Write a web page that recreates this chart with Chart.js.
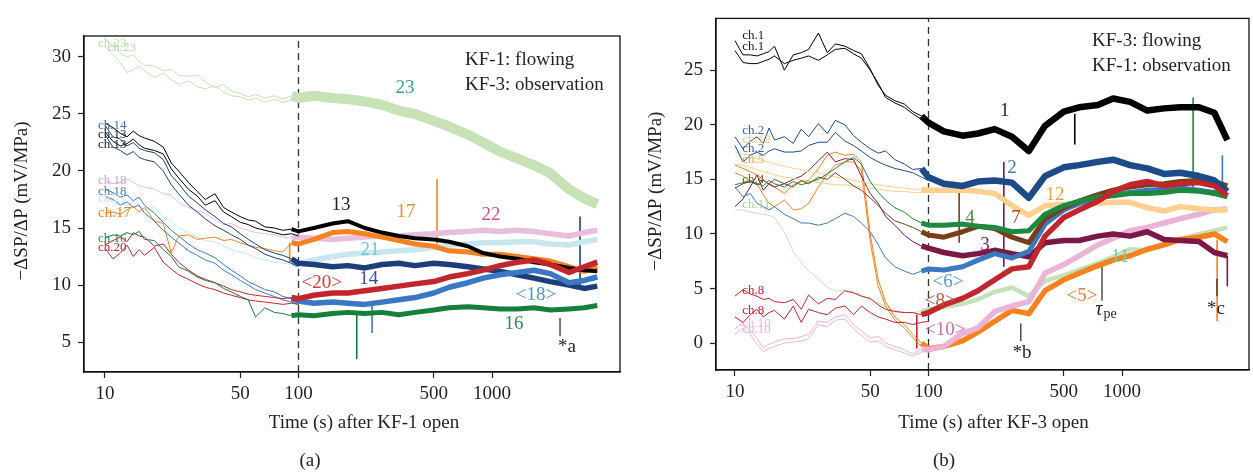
<!DOCTYPE html>
<html>
<head>
<meta charset="utf-8">
<script src="https://cdn.jsdelivr.net/npm/chart.js@4.4.0/dist/chart.umd.min.js"></script>
<style>
html, body { margin: 0; padding: 0; background: #fff; }
#wrap { position: relative; width: 1253px; height: 473px; overflow: hidden; }
#wa { position: absolute; left: 0; top: 0; }
#wb { position: absolute; left: 640px; top: 0; }
</style>
</head>
<body>
<div id="wrap">
  <div id="wa"><canvas id="ca" width="640" height="473"></canvas></div>
  <div id="wb"><canvas id="cb" width="613" height="473"></canvas></div>
</div>
<script>
/* ---------- temps (s) ---------- */
var tEarly = [10, 11, 12, 13, 14, 15, 16, 18, 20, 22, 24, 27, 30, 33, 37, 41, 45, 50, 55, 60, 67, 75, 83, 92, 100];
var tLate = [120, 150, 180, 220, 270, 330, 400, 500, 600, 750, 900, 1100, 1350, 1650, 2000, 2500, 3000, 3500];
var tAll = tEarly.concat(tLate);

var xTicks = [10, 50, 100, 500, 1000];
var yTicksA = [5, 10, 15, 20, 25, 30];
var yTicksB = [0, 5, 10, 15, 20, 25];

/* ---------- (a) KF-1 flowing ---------- */
var a23 = [31.6,31.0,30.3,30.0,30.2,29.6,29.3,29.2,28.8,28.9,28.4,28.3,28.4,27.8,27.3,27.6,27.0,26.8,26.5,26.7,26.4,26.6,26.3,26.6,26.4,
           26.6,26.4,26.3,26.1,25.8,25.3,25.0,24.4,23.9,23.2,22.5,21.7,21.1,20.5,19.8,18.4,17.6,17.1];
var a23b = [30.9,30.2,29.5,28.6,28.9,29.2,28.8,28.2,28.6,28.0,27.6,27.9,27.4,27.2,27.5,26.9,26.6,26.5,26.2,26.4,26.0,26.3,26.0,26.2,26.1];
var a13 = [24.2,23.8,23.3,23.0,23.5,23.1,22.9,22.6,22.1,20.7,20.0,19.0,18.2,17.5,18.0,16.8,16.4,16.0,15.7,15.6,15.1,15.0,14.8,14.9,14.7,
           15.0,15.4,15.6,15.0,14.6,14.3,14.1,14.0,13.8,13.4,12.8,12.5,12.3,12.0,11.8,11.5,11.3,11.2];
var a13b = [23.4,22.6,22.2,22.4,22.8,22.3,22.0,21.8,21.5,20.2,19.4,18.4,17.8,17.0,17.4,16.4,16.0,15.5,15.3,15.0,14.8,14.6,14.4,14.5,14.3];
var a14 = [24.0,23.0,22.8,22.2,22.5,22.0,21.8,21.6,21.0,19.6,18.9,17.8,17.2,16.6,16.0,15.4,15.1,14.5,14.0,13.6,13.1,12.8,12.6,12.3,11.9,
           11.8,11.6,11.7,11.5,11.8,11.9,11.7,11.9,11.8,11.6,11.4,11.2,10.9,10.6,10.3,10.0,9.7,9.9];
var a14b = [23.2,22.1,21.8,21.4,21.7,21.2,21.0,20.8,20.0,18.8,18.0,17.0,16.4,15.8,15.2,14.8,14.4,14.0,13.5,13.2,12.7,12.4,12.2,11.9,11.6];
var a18 = [18.4,18.1,17.7,17.9,17.4,17.7,17.0,16.3,15.5,14.8,14.3,13.6,13.1,12.8,12.4,11.8,11.3,10.8,10.3,10.0,9.6,9.4,9.0,8.8,8.6,
           8.4,8.5,8.4,8.3,8.5,8.7,8.9,9.3,9.8,10.2,10.6,10.9,11.1,11.3,11.0,10.2,10.4,10.7];
var a18b = [17.8,17.5,17.0,17.3,16.8,17.0,16.3,15.6,14.8,14.2,13.7,13.0,12.6,12.2,11.9,11.3,10.9,10.4,10.0,9.6,9.3,9.0,8.7,8.5,8.3];
var a20 = [13.5,13.9,14.2,13.8,14.6,14.3,14.2,13.4,13.6,12.7,12.0,11.3,10.8,10.5,10.2,9.9,9.6,9.4,9.2,9.1,9.0,8.9,8.8,8.9,8.8,
           9.1,9.3,9.3,9.5,9.7,9.9,10.1,10.3,10.7,11.0,11.3,11.7,12.0,12.2,11.8,11.1,11.6,12.0];
var a20b = [13.2,12.3,12.8,13.5,12.5,13.1,12.6,13.3,12.0,11.4,10.9,10.5,10.1,9.8,9.6,9.3,9.1,8.9,8.7,8.6,8.5,8.4,8.3,8.4,8.3];
var a16 = [14.1,14.4,14.3,14.6,14.4,14.7,14.0,13.9,13.1,12.5,11.6,11.2,10.7,10.4,10.2,9.7,9.4,9.0,8.7,7.2,8.0,7.6,7.5,7.3,7.4,
           7.3,7.5,7.6,7.5,7.6,7.4,7.6,7.8,8.0,8.1,8.0,7.9,7.9,8.0,7.8,7.9,8.0,8.2];
var a17 = [16.3,16.4,16.2,16.6,16.9,16.4,16.8,15.6,15.4,12.8,14.3,14.4,14.0,14.1,14.2,13.9,14.0,13.7,13.5,13.3,13.2,13.0,12.9,13.7,13.6,
           14.0,14.6,14.7,14.5,14.2,13.9,13.6,13.4,13.0,12.9,12.7,12.7,12.5,12.3,12.1,11.6,11.2,11.6];
var a22 = [19.1,18.9,19.0,19.3,19.0,18.7,18.6,18.4,18.0,17.9,17.2,16.8,16.5,16.3,15.7,15.3,15.4,15.0,14.8,14.6,14.5,14.4,14.2,14.1,14.2,
           14.1,14.0,14.1,14.2,14.3,14.3,14.4,14.5,14.6,14.7,14.8,14.7,14.8,14.7,14.5,14.3,14.6,14.8];
var a21 = [17.7,17.4,17.2,17.0,17.3,16.9,16.6,16.9,15.9,15.6,15.0,14.6,14.2,13.9,13.8,13.4,13.1,12.9,12.7,12.4,12.2,12.0,11.9,11.8,11.9,
           12.2,12.5,12.7,12.8,12.9,13.0,13.1,13.3,13.5,13.6,13.7,13.7,13.8,13.8,13.6,13.5,13.8,14.0];

/* pics isolés (a) : temps, bas, haut */
var spikeTA = [520, 200, 240, 2850, 90];
var spikeLoA = [13.4, 3.5, 5.8, 10.0, 12.0];
var spikeHiA = [19.3, 7.5, 8.3, 16.0, 13.7];

/* ---------- (b) KF-3 flowing ---------- */
var b1 = [27.7,26.4,26.4,26.3,26.5,26.7,27.2,25.0,26.4,26.6,26.9,28.4,26.6,27.4,27.2,26.8,26.5,25.1,23.6,22.7,22.2,21.9,21.2,20.8,20.2,
          19.4,19.0,19.2,19.6,18.9,17.6,19.9,21.2,21.6,21.8,22.4,22.1,21.3,21.5,21.6,21.6,21.1,18.6];
var b1b = [26.8,25.7,25.6,25.6,25.8,26.0,26.3,25.6,25.9,26.1,26.3,25.9,26.4,26.9,27.0,26.5,26.1,25.0,23.8,22.5,22.0,21.6,21.0,20.5,20.0];
var b2 = [18.9,17.8,18.5,18.9,18.3,19.7,18.6,18.9,18.3,19.6,18.9,20.1,19.2,20.4,20.0,19.0,18.4,17.8,17.4,17.6,16.8,16.4,15.9,16.0,15.2,
          14.6,14.4,14.8,14.9,14.7,13.3,15.3,16.1,16.3,16.6,16.8,16.3,16.0,15.5,15.6,15.3,14.9,13.9];
var b2b = [18.1,16.6,17.2,17.5,17.2,17.6,17.8,17.5,17.5,17.6,18.1,18.4,18.4,19.3,18.5,18.1,17.6,17.0,16.6,16.3,16.0,15.8,15.6,15.2,14.9];
var b12 = [17.5,17.3,17.2,16.9,16.7,16.6,16.4,16.2,16.0,15.9,15.7,15.6,15.4,15.2,15.1,14.9,14.8,14.6,14.5,14.4,14.3,14.2,14.1,14.1,14.0,
           14.0,14.0,13.9,13.7,12.6,11.7,12.6,12.7,12.7,12.8,12.9,12.9,12.4,12.1,12.5,12.3,12.2,12.2];
var b12b = [16.4,16.3,16.1,15.9,15.7,15.6,15.4,15.2,15.1,14.9,14.8,14.7,14.6,14.5,14.5,14.4,14.3,14.2,14.1,14.0,13.9,13.9,13.8,13.8,13.8];
var b5 = [16.3,16.0,15.7,15.4,15.0,14.5,14.3,13.7,14.5,14.8,14.9,16.0,17.2,17.5,17.2,17.3,16.6,10.0,5.8,3.8,2.4,1.7,0.8,0.0,-0.5,
          -0.3,0.2,1.0,2.0,3.0,2.7,4.8,5.8,6.4,7.1,7.6,8.0,8.6,9.0,9.5,9.7,10.0,9.3];
var b5b = [15.6,15.3,14.8,14.6,13.6,12.8,12.5,13.1,12.2,12.3,12.8,14.3,15.5,16.3,16.6,16.6,15.8,9.3,5.2,3.4,2.1,1.4,0.5,-0.3,-0.8];
var b4 = [14.5,14.7,14.9,14.6,14.4,14.9,14.6,14.3,14.8,14.5,14.7,15.0,15.5,16.0,16.6,17.0,16.4,14.8,13.8,13.1,12.4,12.0,11.4,11.0,10.8,
          10.8,10.9,10.7,10.6,10.2,10.3,11.8,12.6,13.0,13.4,13.5,13.7,13.7,13.8,14.0,13.9,13.7,13.4];
var b7 = [14.2,14.6,14.8,14.5,14.9,14.6,15.0,14.6,14.3,14.9,14.6,15.2,15.0,15.6,15.0,14.4,14.0,13.3,12.6,11.9,11.2,10.9,10.6,10.2,9.9,
          9.7,10.2,10.7,10.5,9.7,9.2,11.4,12.4,13.0,13.6,14.0,14.3,14.5,14.6,14.8,14.9,14.8,14.4];
var b3 = [12.5,13.2,14.3,15.4,14.0,14.6,14.3,14.6,15.0,15.3,15.8,16.7,17.5,16.6,16.9,16.8,15.3,13.7,12.8,11.6,10.8,9.9,9.3,8.9,8.7,
          8.3,8.0,8.2,8.5,8.2,7.9,9.2,9.4,9.4,9.8,10.0,9.8,10.2,9.5,9.4,9.3,8.3,8.0];
var b6 = [14.3,13.4,13.7,12.8,12.5,12.2,12.5,11.8,11.4,11.0,11.0,10.8,11.0,11.4,11.9,11.6,11.0,10.2,9.0,7.8,7.0,6.6,6.3,6.6,6.8,
          6.7,7.0,7.6,8.2,7.8,8.4,10.9,12.2,12.8,13.2,13.6,13.8,14.0,14.1,14.2,14.0,13.8,13.5];
var b8 = [4.3,4.9,4.5,4.3,4.0,4.1,3.8,3.7,4.0,3.1,4.4,3.6,4.1,4.0,4.8,4.6,4.3,4.1,3.5,3.1,2.9,2.8,2.8,2.6,2.8,
          3.5,4.1,4.8,5.8,6.8,7.0,9.8,11.5,12.2,13.0,13.9,14.5,14.8,14.4,14.6,14.7,14.4,13.5];
var b8b = [2.4,1.9,2.6,3.1,2.4,2.8,3.0,2.2,3.4,1.9,3.1,2.8,2.6,3.2,3.4,2.6,3.4,2.8,2.4,2.2,1.9,1.9,1.7,1.9,2.0];
var b10 = [1.3,1.9,1.2,0.4,-0.4,-0.1,0.1,0.4,0.4,0.6,0.8,2.0,1.9,2.4,2.6,1.7,1.1,0.5,0.6,0.0,-0.3,-0.6,-1.0,-0.5,-0.6,
           -0.3,0.9,1.4,2.9,3.4,3.8,6.4,7.2,8.0,9.0,9.6,10.3,10.6,11.0,11.4,11.8,12.2,12.3];
var b10b = [0.8,1.4,0.8,-0.1,-0.8,-0.5,-0.3,0.0,0.1,0.2,0.4,1.7,1.5,2.1,2.2,1.3,0.7,0.1,0.2,-0.3,-0.6,-0.9,-1.2,-0.8,-0.8];
var b11 = [12.2,12.2,12.0,11.9,11.8,11.7,11.5,10.2,8.4,7.4,6.6,5.9,5.1,4.8,4.8,4.7,4.4,4.0,3.7,3.3,3.0,2.8,2.8,2.9,3.1,
           3.3,3.6,4.0,4.7,5.1,4.3,5.7,6.2,6.7,7.3,7.9,8.6,8.5,9.2,9.5,10.0,10.3,10.6];

/* pics isolés (b) */
var spikeTB = [245, 144, 87, 2330, 3300, 3100, 3500, 570];
var spikeLoB = [7.0, 9.2, -0.5, 14.0, 13.8, 2.0, 5.2, 18.2];
var spikeHiB = [16.6, 14.5, 2.6, 22.5, 17.2, 9.5, 8.0, 21.0];

/*********************/
/* Couleurs / styles */
/*********************/
var col = {
    c23: '#c6e2b6', blk: '#000000', c14: '#1c3f7c', c18: '#3a78c6', c20: '#c3252c',
    c16: '#157f3c', c17: '#f58220', c22: '#e8bedc', c21: '#c8e6ee',
    b2: '#1d4a88', b12: '#fdd08f', b5: '#f5821f', b4: '#1b8a3e', b7: '#7a3e17',
    b3: '#7a1846', b6: '#3b78c3', b8: '#c1262d', b10: '#ebb3d6', b11: '#c3e3b6'
};
var serif = '"Liberation Serif", "DejaVu Serif", serif';

// une courbe : fine avant 100 s, bande épaisse (bruit) après
function courbe(times, vals, color, wLate) {
    return {
        data: times.map(function(t, i) { return { x: t, y: vals[i] }; }),
        borderColor: color, borderWidth: 1, pointRadius: 0, tension: 0, fill: false,
        borderJoinStyle: 'round',
        segment: { borderWidth: function(c) { return c.p0.parsed.x >= 92 ? wLate : 1; } }
    };
}
function trait(t, lo, hi, color, w, dash) {
    return { data: [{ x: t, y: lo }, { x: t, y: hi }], borderColor: color, borderWidth: w || 1.2,
             borderDash: dash || [], pointRadius: 0, fill: false };
}

/* textes (positions en coordonnées des données) */
var textesA = [
    { s: 'KF-1: flowing', t: 725, v: 29.7, c: '#231f20', f: 19, a: 'left' },
    { s: 'KF-3: observation', t: 725, v: 27.5, c: '#231f20', f: 19, a: 'left' },
    { s: '23', t: 355, v: 27.3, c: '#2ea596', f: 19 },
    { s: '13', t: 166, v: 17.0, c: '#231f20', f: 19 },
    { s: '17', t: 359, v: 16.4, c: '#f28a2e', f: 19 },
    { s: '22', t: 988, v: 16.1, c: '#d0508f', f: 19 },
    { s: '21', t: 234, v: 13.1, c: '#74c5d8', f: 19 },
    { s: '14', t: 231, v: 10.5, c: '#3c4c9c', f: 19 },
    { s: '<20>', t: 132, v: 10.2, c: '#d03c3c', f: 19 },
    { s: '<18>', t: 1688, v: 9.1, c: '#4e93d6', f: 19 },
    { s: '16', t: 1299, v: 6.6, c: '#2e8b57', f: 19 },
    { s: '*a', t: 2441, v: 4.6, c: '#231f20', f: 19 },
    { s: 'ch.23', t: 9.2, v: 31.2, c: '#b9dca6', f: 13, a: 'left' },
    { s: 'ch.23', t: 10.3, v: 30.8, c: '#b9dca6', f: 13, a: 'left' },
    { s: 'ch.14', t: 9.2, v: 24.0, c: '#3f6fb5', f: 13, a: 'left' },
    { s: 'ch.13', t: 9.2, v: 23.2, c: '#222', f: 13, a: 'left' },
    { s: 'ch.13', t: 9.2, v: 22.3, c: '#222', f: 13, a: 'left' },
    { s: 'ch.18', t: 9.2, v: 19.2, c: '#c7a4d6', f: 13, a: 'left' },
    { s: 'ch.18', t: 9.2, v: 18.2, c: '#4d7fc0', f: 13, a: 'left' },
    { s: 'ch.21', t: 9.2, v: 17.6, c: '#c8e6ee', f: 13, a: 'left' },
    { s: 'ch.17', t: 9.2, v: 16.3, c: '#f58220', f: 15, a: 'left' },
    { s: 'ch.16', t: 9.2, v: 14.1, c: '#2e8b57', f: 13, a: 'left' },
    { s: 'ch.20', t: 9.2, v: 13.3, c: '#c3252c', f: 13, a: 'left' }
];
var textesB = [
    { s: 'KF-3: flowing', t: 700, v: 27.7, c: '#231f20', f: 19, a: 'left' },
    { s: 'KF-1: observation', t: 700, v: 25.4, c: '#231f20', f: 19, a: 'left' },
    { s: '1', t: 248, v: 21.3, c: '#231f20', f: 19 },
    { s: '2', t: 270, v: 16.0, c: '#4077bd', f: 19 },
    { s: '4', t: 164, v: 11.5, c: '#4e8c3a', f: 19 },
    { s: '7', t: 283, v: 11.5, c: '#a0522d', f: 19 },
    { s: '3', t: 196, v: 9.0, c: '#8b2555', f: 19 },
    { s: '12', t: 451, v: 13.6, c: '#f4a340', f: 19 },
    { s: '<6>', t: 126, v: 5.6, c: '#5599d8', f: 19 },
    { s: '<8>', t: 115, v: 3.9, c: '#b85a36', f: 19 },
    { s: '<10>', t: 122, v: 1.2, c: '#c070b0', f: 19 },
    { s: '<5>', t: 621, v: 4.3, c: '#f07b35', f: 19 },
    { s: '11', t: 977, v: 7.9, c: '#7cc9a6', f: 19 },
    { s: 'τ', t: 800, v: 3.1, c: '#231f20', f: 20, sub: 'pe' },
    { s: '*b', t: 304, v: -0.9, c: '#231f20', f: 19 },
    { s: '*c', t: 3062, v: 3.1, c: '#231f20', f: 19 },
    { s: 'ch.1', t: 10.9, v: 28.2, c: '#222', f: 13, a: 'left' },
    { s: 'ch.1', t: 10.9, v: 27.2, c: '#222', f: 13, a: 'left' },
    { s: 'ch.2', t: 10.9, v: 19.5, c: '#3c64a0', f: 13, a: 'left' },
    { s: 'ch.12', t: 10.9, v: 18.6, c: '#fcc980', f: 13, a: 'left' },
    { s: 'ch.2', t: 10.9, v: 17.8, c: '#3c64a0', f: 13, a: 'left' },
    { s: 'ch.5', t: 10.9, v: 16.8, c: '#f5a050', f: 13, a: 'left' },
    { s: 'ch.4', t: 10.9, v: 15.0, c: '#6b5a2a', f: 13, a: 'left' },
    { s: 'ch.11', t: 10.9, v: 12.7, c: '#a8d0a0', f: 13, a: 'left' },
    { s: 'ch.8', t: 10.9, v: 4.8, c: '#c1262d', f: 13, a: 'left' },
    { s: 'ch.8', t: 10.9, v: 3.0, c: '#c1262d', f: 13, a: 'left' },
    { s: 'ch.10', t: 10.9, v: 1.8, c: '#ebb3d6', f: 13, a: 'left' },
    { s: 'ch.10', t: 10.9, v: 1.2, c: '#ebb3d6', f: 13, a: 'left' }
];

/***************************/
/* Plugin : cadre + textes */
/***************************/
function pluginTextes(textes, titreX, titreXdx, lettre, lettreX, titreYx) {
    return {
        id: 'textes',
        afterDatasetsDraw: function(chart) {
            var ctx = chart.ctx, ca = chart.chartArea;
            var sx = chart.scales.x, sy = chart.scales.y;
            ctx.save();
            ctx.strokeStyle = '#111';
            ctx.lineWidth = 1.3;
            ctx.strokeRect(ca.left, ca.top, ca.right - ca.left, ca.bottom - ca.top);
            ctx.textBaseline = 'middle';
            textes.forEach(function(e) {
                var x = sx.getPixelForValue(e.t), y = sy.getPixelForValue(e.v);
                ctx.fillStyle = e.c;
                ctx.textAlign = e.a || 'center';
                if (e.sub) {
                    ctx.font = 'italic ' + e.f + 'px ' + serif;
                    ctx.textAlign = 'left';
                    ctx.fillText(e.s, x - 8, y);
                    var w = ctx.measureText(e.s).width;
                    ctx.font = (e.f - 6) + 'px ' + serif;
                    ctx.fillText(e.sub, x - 8 + w + 1, y + 5);
                } else {
                    ctx.font = e.f + 'px ' + serif;
                    ctx.fillText(e.s, x, y);
                }
            });
            ctx.fillStyle = '#231f20';
            ctx.textAlign = 'center';
            ctx.font = '19px ' + serif;
            ctx.fillText(titreX, (ca.left + ca.right) / 2 + titreXdx, 423);
            ctx.fillText(lettre, lettreX, 461);
            ctx.translate(titreYx, (ca.top + ca.bottom) / 2 - 3);
            ctx.rotate(-Math.PI / 2);
            ctx.fillText('\u2212\u0394SP/\u0394P (mV/MPa)', 0, 0);
            ctx.restore();
        }
    };
}

function options(yMin, yMax, xMin, xMax, yTicks, yW, xH, pad) {
    var tickFont = { family: serif, size: 19 };
    return {
        responsive: false, animation: false, events: [],
        layout: { padding: pad },
        plugins: { legend: { display: false }, tooltip: { enabled: false } },
        scales: {
            x: {
                type: 'logarithmic', min: xMin, max: xMax,
                afterBuildTicks: function(s) { s.ticks = xTicks.map(function(v) { return { value: v }; }); },
                afterFit: function(s) { s.height = xH; },
                ticks: { autoSkip: false, maxRotation: 0, color: '#231f20', font: tickFont, padding: 5,
                         callback: function(v) { return String(v); } },
                grid: { drawOnChartArea: false, tickLength: 6, tickColor: '#222', tickWidth: 1.2 },
                border: { color: '#111', width: 1.3 }
            },
            y: {
                type: 'linear', min: yMin, max: yMax,
                afterBuildTicks: function(s) { s.ticks = yTicks.map(function(v) { return { value: v }; }); },
                afterFit: function(s) { s.width = yW; },
                ticks: { color: '#231f20', font: tickFont, padding: 7 },
                grid: { drawOnChartArea: false, tickLength: 6, tickColor: '#222', tickWidth: 1.2 },
                border: { color: '#111', width: 1.3 }
            }
        }
    };
}

/*************/
/* Panneau a */
/*************/
var dsA = [
    courbe(tAll, a16, col.c16, 5),
    courbe(tAll, a20, col.c20, 5.5),
    courbe(tEarly, a20b, col.c20, 1),
    courbe(tAll, a18, col.c18, 5.5),
    courbe(tEarly, a18b, col.c18, 1),
    courbe(tAll, a14, col.c14, 5.5),
    courbe(tEarly, a14b, col.c14, 1),
    courbe(tAll, a13, col.blk, 4),
    courbe(tEarly, a13b, col.blk, 1),
    courbe(tAll, a17, col.c17, 5),
    courbe(tAll, a21, col.c21, 5.5),
    courbe(tAll, a22, col.c22, 5.5),
    courbe(tAll, a23, col.c23, 10),
    courbe(tEarly, a23b, col.c23, 1),
    trait(100, 2.37, 31.84, '#333', 1.3, [7, 5]),
    trait(2246, 5.5, 7.1, '#222', 1.2)
];
spikeTA.forEach(function(t, i) {
    var c = [col.c17, col.c16, col.c18, col.c14, col.c17][i];
    dsA.push(trait(t, spikeLoA[i], spikeHiA[i], c, 1.6));
});

new Chart(document.getElementById('ca'), {
    type: 'line',
    data: { datasets: dsA },
    options: options(2.37, 31.84, 7.79, 4586, yTicksA, 84, 101, { left: 0, right: 20, top: 36, bottom: 0 }),
    plugins: [pluginTextes(textesA, 'Time (s) after KF-1 open', 12, '(a)', 310, 22)]
});

/*************/
/* Panneau b */
/*************/
var dsB = [
    courbe(tAll, b1, col.blk, 6.5),
    courbe(tEarly, b1b, col.blk, 1),
    courbe(tAll, b8, col.b8, 5.5),
    courbe(tEarly, b8b, col.b8, 1),
    courbe(tAll, b4, col.b4, 5),
    courbe(tAll, b2, col.b2, 6.5),
    courbe(tEarly, b2b, col.b2, 1),
    courbe(tAll, b7, col.b7, 5),
    courbe(tAll, b6, col.b6, 5),
    courbe(tAll, b12, col.b12, 5.5),
    courbe(tEarly, b12b, col.b12, 1),
    courbe(tAll, b3, col.b3, 5.5),
    courbe(tAll, b10, col.b10, 5.5),
    courbe(tEarly, b10b, col.b10, 1),
    courbe(tAll, b5, col.b5, 5.5),
    courbe(tEarly, b5b, col.b5, 1),
    courbe(tAll, b11, col.b11, 4.5),
    trait(100, -2.46, 29.74, '#333', 1.3, [7, 5]),
    trait(788, 3.9, 7.4, '#222', 1.2),
    trait(300, 0.2, 1.8, '#222', 1.2),
    trait(3096, 4.3, 5.9, '#222', 1.2)
];
spikeTB.forEach(function(t, i) {
    var c = [col.b3, col.b7, col.b8, col.b4, col.b6, col.b5, col.b3, col.blk][i];
    dsB.push(trait(t, spikeLoB[i], spikeHiB[i], c, 1.6));
});

new Chart(document.getElementById('cb'), {
    type: 'line',
    data: { datasets: dsB },
    options: options(-2.46, 29.74, 7.98, 4530, yTicksB, 76, 103, { left: 0, right: 4, top: 5, bottom: 0 }),
    plugins: [pluginTextes(textesB, 'Time (s) after KF-3 open', 11, '(b)', 304, 16)]
});
</script>
</body>
</html>
